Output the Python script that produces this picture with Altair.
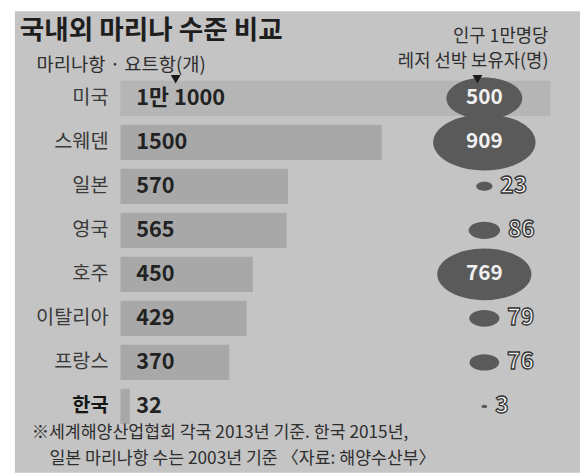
import altair as alt
import pandas as pd

countries = ["미국", "스웨덴", "일본", "영국", "호주", "이탈리아", "프랑스", "한국"]
marinas = [11000, 1500, 570, 565, 450, 429, 370, 32]
marina_labels = ["1만 1000", "1500", "570", "565", "450", "429", "370", "32"]
owners = [500, 909, 23, 86, 769, 79, 76, 3]

title_text = "국내외 마리나 수준 비교"
left_header = "마리나항 · 요트항(개)"
right_header = ["인구 1만명당", "레저 선박 보유자(명)"]
footnotes = ["※세계해양산업협회 각국 2013년 기준. 한국 2015년,",
             "일본 마리나항 수는 2003년 기준    〈자료: 해양수산부〉"]

df = pd.DataFrame({"country": countries, "marina": marinas,
                   "label": marina_labels, "owners": owners})

FONT = "Noto Sans CJK KR"
W, H = 573, 468
TXT = "#2e2e2e"
ELLIPSE = "M-1,0A1,0.55,0,1,1,1,0A1,0.55,0,1,1,-1,0Z"

yenc = alt.Y("country:N", sort=countries, axis=None,
             scale=alt.Scale(range=[66, 423], paddingInner=0.2, paddingOuter=0.1))
xbar = alt.Scale(type="linear", domain=[0, 570, 1500, 11000], range=[107, 277, 372, 543],
                 nice=False, zero=False)
xbub = alt.Scale(type="linear", domain=[0, 100], range=[476, 576], nice=False, zero=False)

base = alt.Chart(df)

bars = base.mark_bar().encode(
    x=alt.X("marina:Q", scale=xbar, axis=None),
    y=yenc,
    color=alt.condition(alt.datum.country == "미국", alt.value("#b5b5b5"), alt.value("#a8a8a8")),
)

bar_labels = base.mark_text(align="left", baseline="middle", dx=16, font=FONT,
                            fontWeight="bold", fontSize=22, color="#222222").encode(
    x=alt.XDatum(0, type="quantitative", scale=xbar, axis=None),
    y=yenc,
    text="label:N",
)

country_labels = base.transform_filter(alt.datum.country != "한국").mark_text(
    align="right", baseline="middle", dx=-12, font=FONT, fontSize=20, color="#3a3a3a").encode(
    x=alt.XDatum(0, type="quantitative", scale=xbar, axis=None),
    y=yenc,
    text="country:N",
)
korea_label = base.transform_filter(alt.datum.country == "한국").mark_text(
    align="right", baseline="middle", dx=-12, font=FONT, fontSize=20, fontWeight="bold",
    color="#151515").encode(
    x=alt.XDatum(0, type="quantitative", scale=xbar, axis=None),
    y=yenc,
    text="country:N",
)

circles = base.mark_point(shape=ELLIPSE, filled=True, opacity=1, color="#5a5a5a",
                          strokeWidth=0).encode(
    x=alt.XDatum(0, type="quantitative", scale=xbub, axis=None),
    y=yenc,
    size=alt.Size("owners:Q", scale=alt.Scale(type="linear", domain=[0, 1000], range=[0, 11860]),
                  legend=None),
)

inner_labels = base.transform_filter(alt.datum.owners >= 500).mark_text(
    align="center", baseline="middle", font=FONT, fontWeight="bold", fontSize=21,
    color="#f0f0f0").encode(
    x=alt.XDatum(0, type="quantitative", scale=xbub, axis=None),
    y=yenc,
    text="owners:Q",
)

outer_labels = base.transform_filter(alt.datum.owners < 500).transform_calculate(
    lx="sqrt(datum.owners * 11.86) / 2 + 8").mark_text(
    align="left", baseline="middle", font=FONT, fontWeight="bold", fontSize=23,
    fill="#f4f4f4", stroke="#333333", strokeWidth=1.3).encode(
    x=alt.X("lx:Q", scale=xbub, axis=None),
    y=yenc,
    text="owners:Q",
)

def note(text, x, y, size, align="left", weight="normal", color=TXT):
    return alt.Chart(pd.DataFrame({"t": [text]})).mark_text(
        align=align, baseline="middle", font=FONT, fontSize=size, fontWeight=weight,
        color=color).encode(x=alt.value(x), y=alt.value(y), text="t:N")

title = note(title_text, 5, 20, 27, weight="bold", color="#1e1e1e")
hdr_l = note(left_header, 22, 55, 19)
hdr_r1 = note(right_header[0], 541, 26, 18, align="right")
hdr_r2 = note(right_header[1], 541, 52, 18, align="right")
foot1 = note(footnotes[0], 17, 428, 17.5)
foot2 = note(footnotes[1], 35, 454, 17.5)

tri = alt.Chart(pd.DataFrame({"k": ["left", "right"]})).mark_point(
    shape="triangle-down", filled=True, size=100, color="#1a1a1a", opacity=1).encode(
    x=alt.X("k:N", scale=alt.Scale(type="point", domain=["left", "right"], range=[163, 469],
                                   padding=0), axis=None),
    y=alt.value(69),
)

chart = alt.layer(
    bars, bar_labels, country_labels, korea_label, circles, inner_labels, outer_labels,
    title, hdr_l, hdr_r1, hdr_r2, foot1, foot2, tri,
).resolve_scale(x="independent").properties(
    width=W, height=H,
    padding={"left": 7, "top": 0, "right": 0, "bottom": 0},
    autosize=alt.AutoSizeParams(type="none"),
    background="white",
).configure_view(fill="#c4c4c4", stroke=None)

chart.save("out.html", embed_options={"renderer": "svg", "actions": False})
